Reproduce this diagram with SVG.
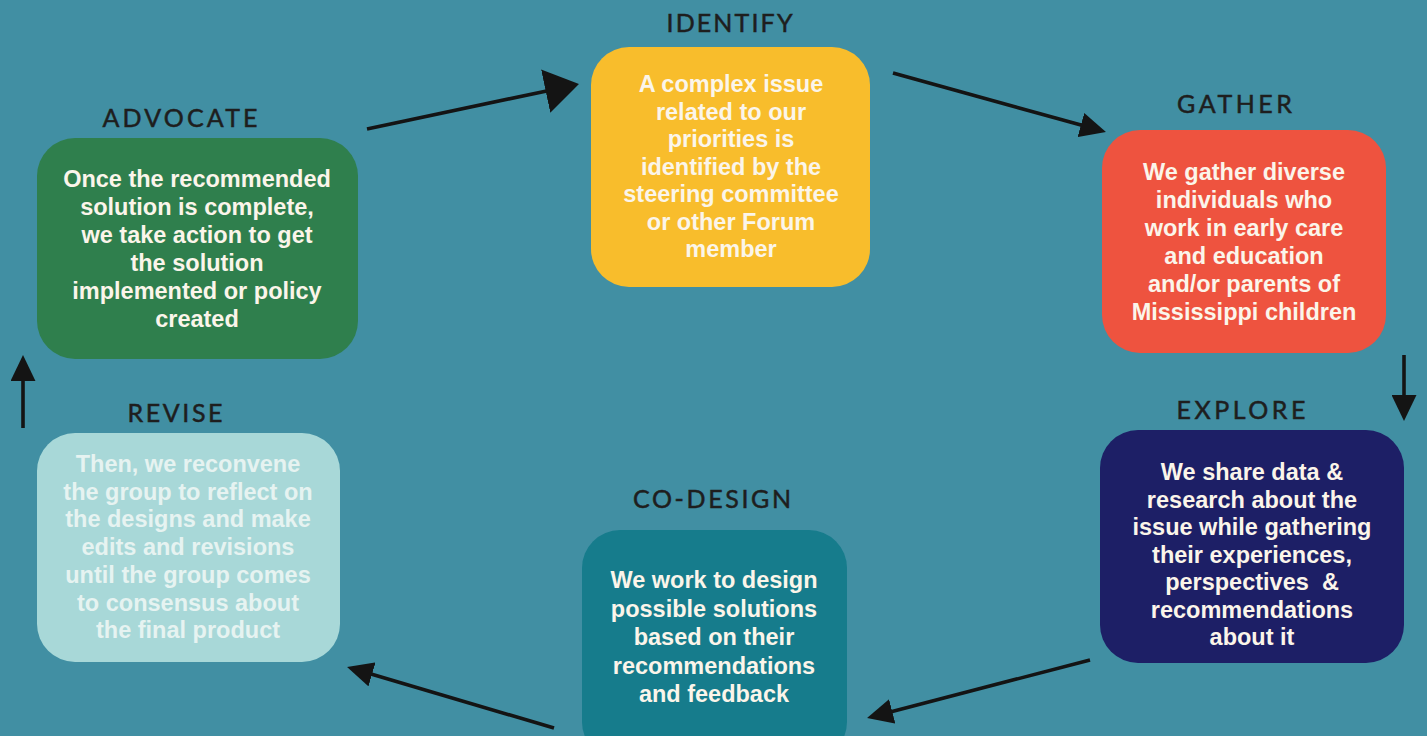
<svg xmlns="http://www.w3.org/2000/svg" width="1427" height="736" viewBox="0 0 1427 736">
<defs>
<style>
.bg{fill:#418fa3}
.h{font-family:Lato,"Liberation Sans",sans-serif;font-size:25px;fill:#1e1e1e;stroke:#1e1e1e;stroke-width:0.5;text-anchor:middle}
.t{font-family:"Liberation Sans",Arial,sans-serif;font-weight:bold;font-size:23.5px;fill:#fbf5ea;text-anchor:middle}
.r{fill:#e6f3f1}
.c{stroke:#141414;stroke-width:3.6;fill:none}
</style>
<marker id="ah" viewBox="0 0 10 10" refX="0.4" refY="5" markerWidth="26" markerHeight="25" markerUnits="userSpaceOnUse" orient="auto" preserveAspectRatio="none"><path d="M0,0 L10,5 L0,10 z" fill="#141414"/></marker>
<marker id="ahb" viewBox="0 0 10 10" refX="0.3" refY="5" markerWidth="34" markerHeight="44" markerUnits="userSpaceOnUse" orient="auto" preserveAspectRatio="none"><path d="M0,0 L10,5 L0,10 z" fill="#141414"/></marker>
</defs>
<rect class="bg" x="0" y="0" width="1427" height="736"/>

<g id="connectors">
<line class="c" x1="367" y1="129" x2="546.7" y2="90.9" marker-end="url(#ahb)"/>
<line class="c" x1="893" y1="73" x2="1081.9" y2="125.3" marker-end="url(#ah)"/>
<line class="c" x1="1404" y1="355" x2="1404" y2="396" marker-end="url(#ah)"/>
<line class="c" x1="1090" y1="660" x2="891.2" y2="711.7" marker-end="url(#ah)"/>
<line class="c" x1="554" y1="728" x2="371" y2="674.1" marker-end="url(#ah)"/>
<line class="c" x1="23" y1="428" x2="23" y2="380" marker-end="url(#ah)"/>
</g>

<g id="identify">
<text class="h" x="729.5" y="32" textLength="126" lengthAdjust="spacing">IDENTIFY</text>
<rect x="591" y="47" width="279" height="240" rx="38" fill="#f8bd2c"/>
<text class="t" x="731" y="92">A complex issue</text>
<text class="t" x="731" y="119.5">related to our</text>
<text class="t" x="731" y="147">priorities is</text>
<text class="t" x="731" y="174.5">identified by the</text>
<text class="t" x="731" y="202">steering committee</text>
<text class="t" x="731" y="229.5">or other Forum</text>
<text class="t" x="731" y="257">member</text>
</g>

<g id="gather">
<text class="h" x="1234.5" y="113" textLength="115" lengthAdjust="spacing">GATHER</text>
<rect x="1102" y="130" width="284" height="223" rx="38" fill="#ee533f"/>
<text class="t" x="1244" y="180">We gather diverse</text>
<text class="t" x="1244" y="208">individuals who</text>
<text class="t" x="1244" y="236">work in early care</text>
<text class="t" x="1244" y="264">and education</text>
<text class="t" x="1244" y="292">and/or parents of</text>
<text class="t" x="1244" y="320">Mississippi children</text>
</g>

<g id="explore">
<text class="h" x="1241" y="419" textLength="129" lengthAdjust="spacing">EXPLORE</text>
<rect x="1100" y="430" width="304" height="233" rx="38" fill="#1d1f66"/>
<text class="t" x="1252" y="480">We share data &amp;</text>
<text class="t" x="1252" y="507.5">research about the</text>
<text class="t" x="1252" y="535">issue while gathering</text>
<text class="t" x="1252" y="562.5">their experiences,</text>
<text class="t" x="1252" y="590" xml:space="preserve">perspectives  &amp;</text>
<text class="t" x="1252" y="617.5">recommendations</text>
<text class="t" x="1252" y="645">about it</text>
</g>

<g id="codesign">
<text class="h" x="712" y="508" textLength="158" lengthAdjust="spacing">CO-DESIGN</text>
<rect x="582" y="530" width="265" height="230" rx="38" fill="#167c8c"/>
<text class="t" x="714" y="588">We work to design</text>
<text class="t" x="714" y="616.5">possible solutions</text>
<text class="t" x="714" y="645">based on their</text>
<text class="t" x="714" y="673.5">recommendations</text>
<text class="t" x="714" y="702">and feedback</text>
</g>

<g id="revise">
<text class="h" x="175" y="422" textLength="95" lengthAdjust="spacing">REVISE</text>
<rect x="37" y="433" width="303" height="229" rx="38" fill="#a8d8d8"/>
<text class="t r" x="188" y="472">Then, we reconvene</text>
<text class="t r" x="188" y="499.7">the group to reflect on</text>
<text class="t r" x="188" y="527.4">the designs and make</text>
<text class="t r" x="188" y="555.1">edits and revisions</text>
<text class="t r" x="188" y="582.8">until the group comes</text>
<text class="t r" x="188" y="610.5">to consensus about</text>
<text class="t r" x="188" y="638">the final product</text>
</g>

<g id="advocate">
<text class="h" x="180" y="127" textLength="155" lengthAdjust="spacing">ADVOCATE</text>
<rect x="37" y="138" width="321" height="221" rx="38" fill="#2f7f4d"/>
<text class="t" x="197" y="187">Once the recommended</text>
<text class="t" x="197" y="215">solution is complete,</text>
<text class="t" x="197" y="243">we take action to get</text>
<text class="t" x="197" y="271">the solution</text>
<text class="t" x="197" y="299">implemented or policy</text>
<text class="t" x="197" y="327">created</text>
</g>
</svg>
